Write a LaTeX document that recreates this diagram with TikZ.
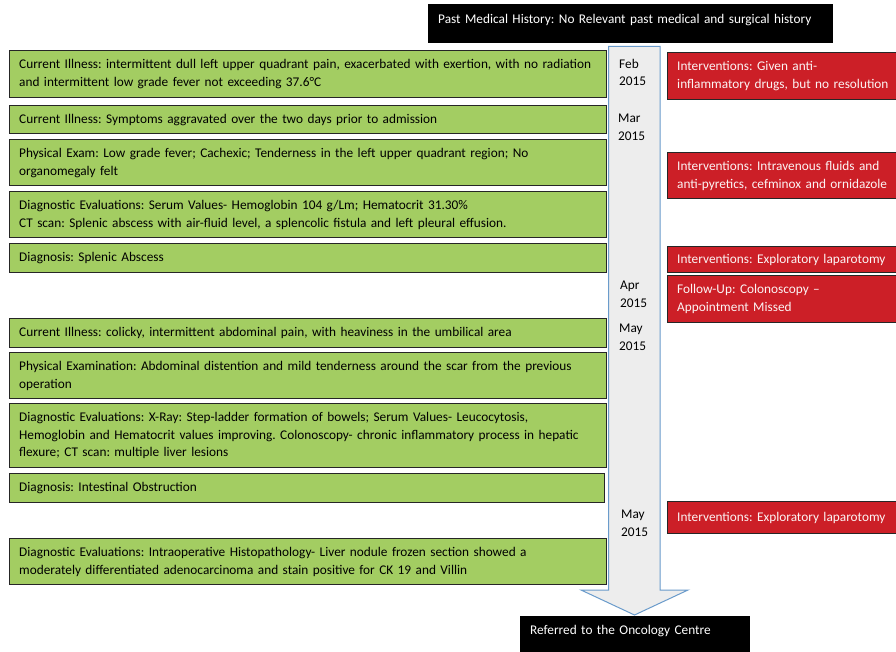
\documentclass[tikz,border=0pt]{standalone}
\usepackage{fontspec}
\setmainfont{Carlito}
\frenchspacing
\definecolor{gfill}{HTML}{A3CD62}
\definecolor{rfill}{HTML}{CC1F27}
\definecolor{bord}{HTML}{262626}
\definecolor{afill}{HTML}{EDEDED}
\definecolor{aline}{HTML}{6A9BCB}
\begin{document}
\begin{tikzpicture}[x=1pt,y=-1pt,
  every node/.style={font=\fontsize{13.3}{17.7}\selectfont\frenchspacing},
  gbox/.style={draw=bord,line width=1.4pt,fill=gfill,anchor=north west,align=left,
    inner xsep=9.5pt,inner ysep=1pt,text width=578pt,text=black},
  rbox/.style={draw=bord,line width=1.4pt,fill=rfill,anchor=north west,align=left,
    inner xsep=9.5pt,inner ysep=1pt,text width=240pt,text=white!95!rfill},
  kbox/.style={fill=black,anchor=north west,align=left,inner xsep=10pt,inner ysep=0pt,text=white},
  datelab/.style={anchor=west,align=left,inner sep=0pt,text=black}]
\useasboundingbox (0,0) rectangle (896,652);
\fill[white] (0,0) rectangle (896,652);
% timeline arrow
\draw[aline,fill=afill,line width=1pt,line join=miter]
  (608.5,46.5) -- (660,46.5) -- (660,590) -- (688,590) -- (634.5,615) -- (581,590) -- (608.5,590) -- cycle;
% black boxes
\node[kbox,text width=385pt,text height=19pt,text depth=19.7pt] (pmh) at (428,4.3)
  {Past Medical History: No Relevant past medical and surgical history};
\node[kbox,text width=210pt,text height=18pt,text depth=26pt] (ref) at (520,616)
  {Referred to the Oncology Centre};
% green boxes
\node[gbox,minimum height=47pt] (g1) at (9,50) {Current Illness: intermittent dull left upper quadrant pain, exacerbated with exertion, with no radiation\\and intermittent low grade fever not exceeding 37.6°C};
\node[gbox,minimum height=28pt] (g2) at (9,105) {Current Illness: Symptoms aggravated over the two days prior to admission};
\node[gbox,minimum height=46pt] (g3) at (9,139) {Physical Exam: Low grade fever; Cachexic; Tenderness in the left upper quadrant region; No\\organomegaly felt};
\node[gbox,minimum height=46pt] (g4) at (9,191) {Diagnostic Evaluations: Serum Values- Hemoglobin 104 g/Lm; Hematocrit 31.30\%\\CT scan: Splenic abscess with air-fluid level, a splencolic fistula and left pleural effusion.};
\node[gbox,minimum height=29pt] (g5) at (9,243) {Diagnosis: Splenic Abscess};
\node[gbox,minimum height=29pt] (g6) at (9,318) {Current Illness: colicky, intermittent abdominal pain, with heaviness in the umbilical area};
\node[gbox,minimum height=46pt] (g7) at (9,352) {Physical Examination: Abdominal distention and mild tenderness around the scar from the previous\\operation};
\node[gbox,minimum height=64pt] (g8) at (9,403) {Diagnostic Evaluations: X-Ray: Step-ladder formation of bowels; Serum Values- Leucocytosis,\\Hemoglobin and Hematocrit values improving. Colonoscopy- chronic inflammatory process in hepatic\\flexure; CT scan: multiple liver lesions};
\node[gbox,minimum height=29pt,text width=576pt] (g9) at (9,473) {Diagnosis: Intestinal Obstruction};
\node[gbox,minimum height=46pt] (g10) at (9,538) {Diagnostic Evaluations: Intraoperative Histopathology- Liver nodule frozen section showed a\\moderately differentiated adenocarcinoma and stain positive for CK 19 and Villin};
% red boxes
\node[rbox,minimum height=47pt] (r1) at (667,52) {Interventions: Given anti-\\inflammatory drugs, but no resolution};
\node[rbox,minimum height=46pt] (r2) at (667,152) {Interventions: Intravenous fluids and\\anti-pyretics, cefminox and ornidazole};
\node[rbox,minimum height=26pt] (r3) at (667,246) {Interventions: Exploratory laparotomy};
\node[rbox,minimum height=47pt] (r4) at (667,275) {Follow-Up: Colonoscopy –\\Appointment Missed};
\node[rbox,minimum height=32pt] (r5) at (667,501) {Interventions: Exploratory laparotomy};
% dates
\node[datelab] (d1) at (619,72.4) {Feb\\2015};
\node[datelab] (d2) at (618,127.4) {Mar\\2015};
\node[datelab] (d3) at (620,294.5) {Apr\\2015};
\node[datelab] (d4) at (619,337.5) {May\\2015};
\node[datelab] (d5) at (621,523.5) {May\\2015};
\end{tikzpicture}
\end{document}
